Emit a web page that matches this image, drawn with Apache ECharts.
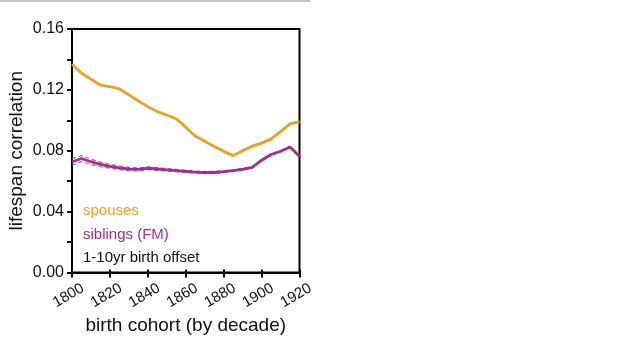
<!DOCTYPE html>
<html>
<head>
<meta charset="utf-8">
<script src="https://cdn.jsdelivr.net/npm/echarts@6/dist/echarts.min.js"></script>
<style>html,body{margin:0;padding:0;background:#fff}#c{width:620px;height:347px}</style>
</head>
<body>
<div id="c"></div>
<script>
const years = [1800,1805,1810,1815,1820,1825,1830,1835,1840,1845,1850,1855,1860,1865,1870,1875,1880,1885,1890,1895,1900,1905,1910,1915,1920];
const spouses = [0.1368,0.1309,0.1270,0.1232,0.1221,0.1206,0.1167,0.1127,0.1090,0.1057,0.1035,0.1010,0.0955,0.0897,0.0862,0.0828,0.0796,0.0768,0.0800,0.0830,0.0850,0.0878,0.0926,0.0976,0.0991];
const siblings = [0.0726,0.0749,0.0728,0.0710,0.0698,0.0688,0.0680,0.0677,0.0685,0.0680,0.0675,0.0670,0.0665,0.0660,0.0657,0.0657,0.0663,0.0670,0.0678,0.0690,0.0738,0.0775,0.0797,0.0825,0.0764];
const siblingsUpper = [0.0748,0.0768,0.0746,0.0725,0.0711,0.0700,0.0691,0.0687,0.0694,0.0689,0.0683,0.0678,0.0672,0.0667,0.0664,0.0664,0.0669,0.0675,0.0683,0.0695,0.0742,0.0779,0.0801,0.0829,0.0768];
const siblingsLower = [0.0704,0.0730,0.0710,0.0695,0.0685,0.0676,0.0669,0.0667,0.0676,0.0671,0.0667,0.0662,0.0658,0.0653,0.0650,0.0650,0.0657,0.0665,0.0673,0.0685,0.0734,0.0771,0.0793,0.0821,0.0760];
const yTicks = [0, 0.04, 0.08, 0.12, 0.16];
const legendLabels = ['spouses', 'siblings (FM)', '1-10yr birth offset'];

const ORANGE = '#EBA123';
const PURPLE = '#A22E8E';
const FONT = '"Liberation Sans", Arial, sans-serif';
const pairs = arr => years.map((y, i) => [y, arr[i]]);

const chart = echarts.init(document.getElementById('c'));
chart.setOption({
  animation: false,
  grid: {left: 72, right: 320.5, top: 29, bottom: 74.5, show: true, borderColor: '#000', borderWidth: 2, backgroundColor: 'transparent'},
  xAxis: [{
    type: 'value', min: 1800, max: 1920, interval: 20,
    axisLine: {show: true, lineStyle: {color: '#000', width: 2}},
    axisTick: {show: true, length: 5, lineStyle: {color: '#000', width: 2}},
    splitLine: {show: false},
    axisLabel: {rotate: 30, fontSize: 15, color: '#111', fontFamily: FONT, margin: 21, align: 'center', verticalAlign: 'middle', padding: [0, 8, 0, 0], formatter: v => String(v)},
    name: 'birth cohort (by decade)', nameLocation: 'middle', nameGap: 42,
    nameTextStyle: {fontSize: 19, color: '#111', fontFamily: FONT}
  }, {
    type: 'value', min: 1800, max: 1920, interval: 20, position: 'bottom',
    axisLine: {show: false}, axisLabel: {show: false}, splitLine: {show: false},
    axisTick: {show: true, inside: true, length: 3, lineStyle: {color: '#000', width: 2}}
  }],
  yAxis: {
    type: 'value', min: 0, max: 0.16, interval: 0.02,
    axisLine: {show: true, lineStyle: {color: '#000', width: 2}},
    axisTick: {show: true, length: 5, lineStyle: {color: '#000', width: 2}},
    splitLine: {show: false},
    axisLabel: {fontSize: 16, color: '#111', fontFamily: FONT, margin: 8,
      formatter: v => { const m = yTicks.find(t => Math.abs(t - v) < 1e-9); return m === undefined ? '' : m.toFixed(2); }},
    name: 'lifespan correlation', nameLocation: 'middle', nameGap: 46,
    nameTextStyle: {fontSize: 19, color: '#111', fontFamily: FONT}
  },
  series: [
    {type: 'line', data: pairs(spouses), symbol: 'none', lineStyle: {color: ORANGE, width: 2.8}, z: 3},
    {type: 'line', data: pairs(siblingsUpper), symbol: 'none', lineStyle: {color: PURPLE, width: 1.2, type: [4, 3], opacity: 0.8}, z: 2},
    {type: 'line', data: pairs(siblingsLower), symbol: 'none', lineStyle: {color: PURPLE, width: 1.2, type: [4, 3], opacity: 0.8}, z: 2},
    {type: 'line', data: pairs(siblings), symbol: 'none', lineStyle: {color: PURPLE, width: 2.8}, z: 3}
  ],
  graphic: [
    {type: 'line', shape: {x1: 0, y1: 1, x2: 310, y2: 1}, style: {stroke: '#c4c4c4', lineWidth: 2}},
    {type: 'text', left: 83, top: 203, style: {text: legendLabels[0], fill: ORANGE, font: '15px ' + FONT}},
    {type: 'text', left: 83, top: 227, style: {text: legendLabels[1], fill: PURPLE, font: '15px ' + FONT}},
    {type: 'text', left: 83, top: 250, style: {text: legendLabels[2], fill: '#111', font: '15px ' + FONT}}
  ]
});
</script>
</body>
</html>
